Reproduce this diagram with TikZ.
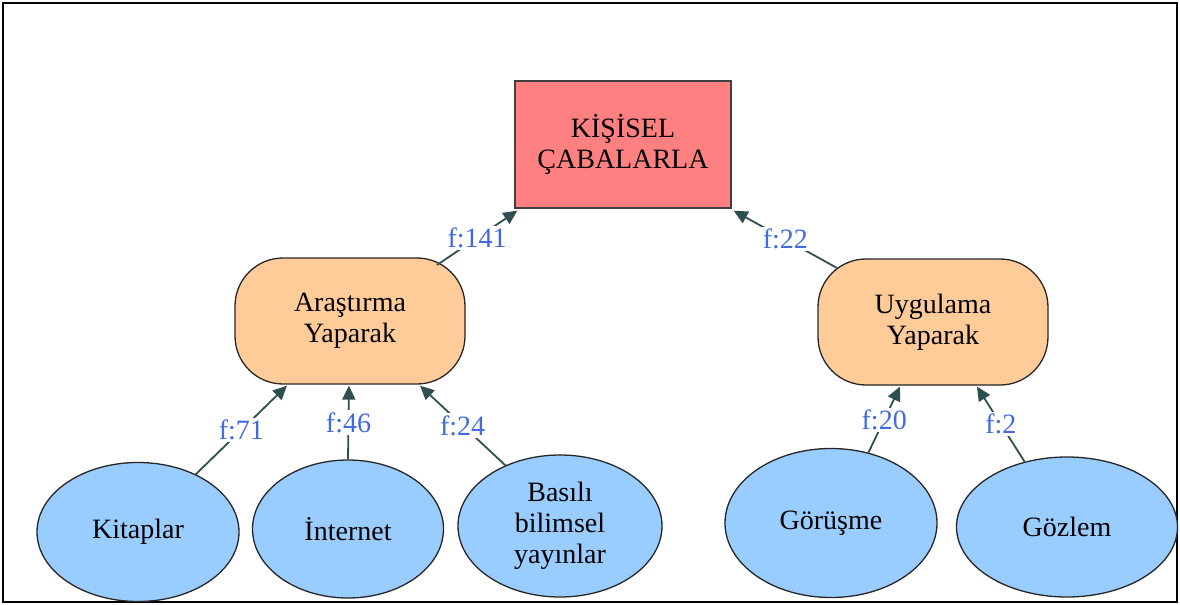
\documentclass[tikz,border=0pt]{standalone}
\usepackage{fontspec}
\setmainfont{Liberation Serif}
\usepackage{tikz}
\usetikzlibrary{arrows.meta,calc,shapes.geometric}

\definecolor{rootred}{RGB}{255,128,128}
\definecolor{peach}{RGB}{255,204,153}
\definecolor{skyblue}{RGB}{153,204,255}
\definecolor{edgegray}{RGB}{47,79,79}
\definecolor{labblue}{RGB}{65,105,225}

\begin{document}
\begin{tikzpicture}[x=0.5pt,y=-0.5pt,
    every node/.style={font=\fontsize{14}{15.5}\selectfont, align=center},
    rootbox/.style={draw=black!75, line width=0.65pt, fill=rootred,
        minimum width=108pt, minimum height=63.5pt},
    waybox/.style={draw=black!85, line width=0.65pt, fill=peach, rounded corners=24pt,
        minimum width=115pt, minimum height=63pt},
    source/.style={ellipse, draw=black!85, line width=0.65pt, fill=skyblue, inner sep=0pt},
    edge/.style={draw=edgegray, line width=0.9pt, -{Triangle[length=7pt,width=6.5pt]}},
    flab/.style={text=labblue, fill=white, inner sep=1pt, midway}
    ]
    \useasboundingbox (0,0) rectangle (1180,605);
    \draw[line width=1.3pt] (3,3) rectangle (1177,602);

    % main goal
    \node[rootbox] (root) at (623,144.5) {KİŞİSEL\\ÇABALARLA};

    % two ways
    \node[waybox] (ara) at (350,321) {Araştırma\\Yaparak};
    \node[waybox] (uyg) at (933,322) {Uygulama\\Yaparak};

    % sources
    \node[source, minimum width=101pt, minimum height=69.5pt] (kit) at (138,532) {Kitaplar};
    \node[source, minimum width=95.5pt, minimum height=69pt] (int) at (348,529) {İnternet};
    \node[source, minimum width=102pt, minimum height=71pt] (bas) at (560,526) {Basılı\\bilimsel\\yayınlar};
    \node[source, minimum width=106pt, minimum height=74.5pt] (gor) at (831,523) {Görüşme};
    \node[source, minimum width=110.5pt, minimum height=70pt] (goz) at (1067,527) {Gözlem};

    % frequencies
    \draw[edge] ($(ara.center)+(87,-56)$) -- ($(root.south west)+(3,2)$) node[flab] {f:141};
    \draw[edge] ($(uyg.center)+(-96,-54)$) -- ($(root.south east)+(2,2)$) node[flab] {f:22};

    \foreach \src/\ang/\dx/\f in {kit/45/-63/71, int/90/-1/46, bas/132/70/24}
    \draw[edge] (\src.\ang) -- ($(ara.south)+(\dx,1)$) node[flab] {f:\f};

    \foreach \src/\ang/\dx/\f in {gor/62/-33/20, goz/123/44/2}
    \draw[edge] (\src.\ang) -- ($(uyg.south)+(\dx,1)$) node[flab] {f:\f};

\end{tikzpicture}
\end{document}
